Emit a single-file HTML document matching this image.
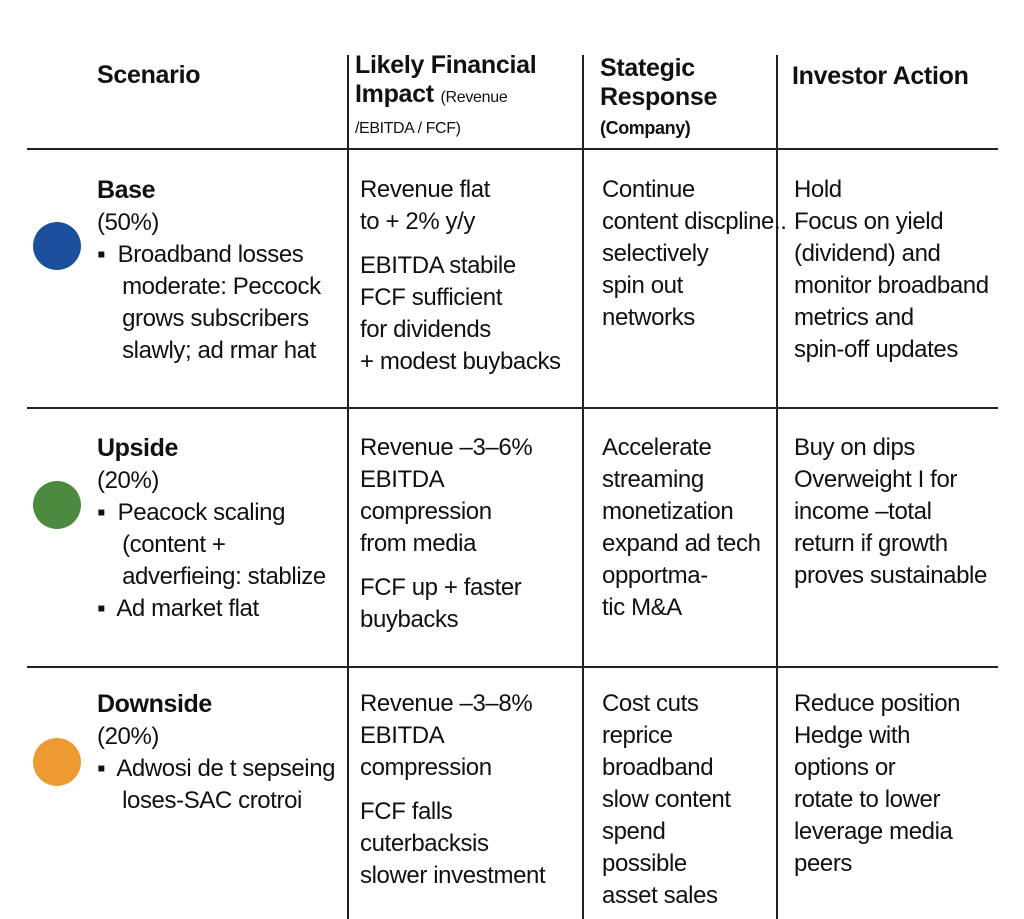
<!DOCTYPE html>
<html><head><meta charset="utf-8"><style>
body{margin:0;width:1024px;height:919px;background:#fff;position:relative;overflow:hidden;font-family:"Liberation Sans",sans-serif;color:#111}
.t{position:absolute;font-size:24px;line-height:32px;white-space:nowrap;letter-spacing:-0.4px}
.h{position:absolute;font-weight:bold;font-size:25px;line-height:29px;white-space:nowrap;letter-spacing:-0.3px}
.hl{position:absolute;left:27px;width:971px;height:1.5px;background:#222}
.vl{position:absolute;top:55px;width:1.5px;height:864px;background:#222}
.c{position:absolute;left:33px;width:48px;height:48px;border-radius:50%}
b{font-size:25px}
</style></head><body>
<div class="vl" style="left:347px"></div>
<div class="vl" style="left:582px"></div>
<div class="vl" style="left:776px"></div>
<div class="hl" style="top:148px"></div>
<div class="hl" style="top:407px"></div>
<div class="hl" style="top:666px"></div>

<div class="h" style="left:97px;top:61px">Scenario</div>
<div class="h" style="left:355px;top:51px">Likely Financial<br>Impact <span style="font-weight:normal;font-size:16px">(Revenue</span></div>
<div class="t" style="left:355px;top:113px;font-size:16px">/EBITDA / FCF)</div>
<div class="h" style="left:600px;top:54px">Stategic<br>Response</div>
<div class="t" style="left:600px;top:112px;font-size:18px;font-weight:bold">(Company)</div>
<div class="h" style="left:792px;top:62px">Investor Action</div>

<div class="c" style="top:222px;background:#1c4f9c"></div>
<div class="c" style="top:481px;background:#4b8a3f"></div>
<div class="c" style="top:738px;background:#ee9a33"></div>

<div class="t" style="left:97px;top:174px"><b>Base</b><br>(50%)<br>▪&nbsp; Broadband losses<br>&nbsp;&nbsp;&nbsp; moderate: Peccock<br>&nbsp;&nbsp;&nbsp; grows subscribers<br>&nbsp;&nbsp;&nbsp; slawly; ad rmar hat</div>
<div class="t" style="left:360px;top:174px">Revenue flat<br>to + 2% y/y<br><span style="position:relative;top:12px">EBITDA stabile<br>FCF sufficient<br>for dividends<br>+ modest buybacks</span></div>
<div class="t" style="left:602px;top:174px">Continue<br>content discpline..<br>selectively<br>spin out<br>networks</div>
<div class="t" style="left:794px;top:174px">Hold<br>Focus on yield<br>(dividend) and<br>monitor broadband<br>metrics and<br>spin-off updates</div>

<div class="t" style="left:97px;top:432px"><b>Upside</b><br>(20%)<br>▪&nbsp; Peacock scaling<br>&nbsp;&nbsp;&nbsp; (content +<br>&nbsp;&nbsp;&nbsp; adverfieing: stablize<br>▪&nbsp; Ad market flat</div>
<div class="t" style="left:360px;top:432px">Revenue –3–6%<br>EBITDA<br>compression<br>from media<br><span style="position:relative;top:12px">FCF up + faster<br>buybacks</span></div>
<div class="t" style="left:602px;top:432px">Accelerate<br>streaming<br>monetization<br>expand ad tech<br>opportma-<br>tic M&amp;A</div>
<div class="t" style="left:794px;top:432px">Buy on dips<br>Overweight I for<br>income –total<br>return if growth<br>proves sustainable</div>

<div class="t" style="left:97px;top:688px"><b>Downside</b><br>(20%)<br>▪&nbsp; Adwosi de t sepseing<br>&nbsp;&nbsp;&nbsp; loses-SAC crotroi</div>
<div class="t" style="left:360px;top:688px">Revenue –3–8%<br>EBITDA<br>compression<br><span style="position:relative;top:12px">FCF falls<br>cuterbacksis<br>slower investment</span></div>
<div class="t" style="left:602px;top:688px">Cost cuts<br>reprice<br>broadband<br>slow content<br>spend<br>possible<br>asset sales</div>
<div class="t" style="left:794px;top:688px">Reduce position<br>Hedge with<br>options or<br>rotate to lower<br>leverage media<br>peers</div>
</body></html>
